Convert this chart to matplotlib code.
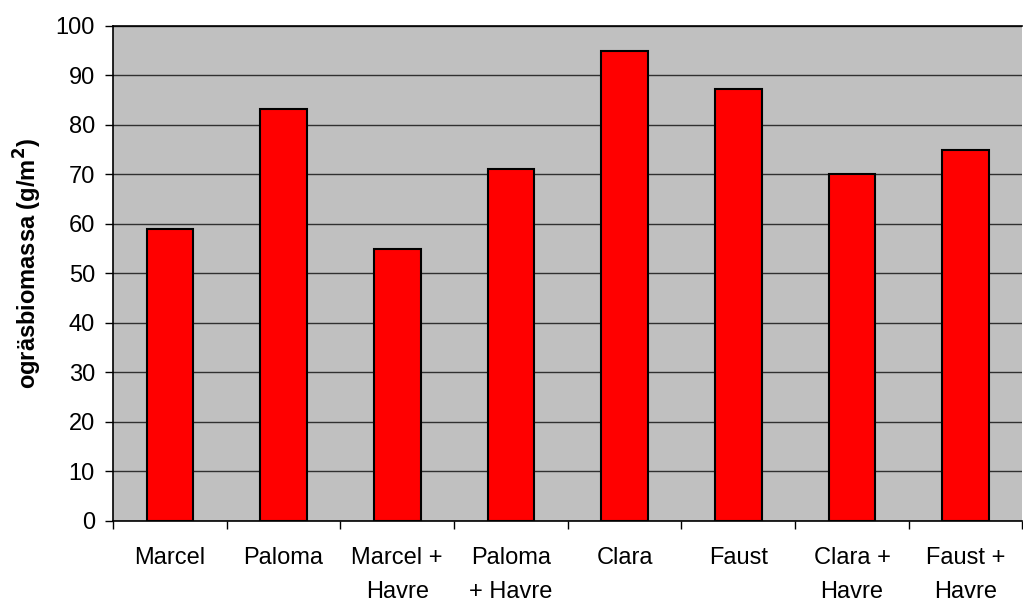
import numpy as np
import matplotlib.pyplot as plt

plt.rcParams['font.family'] = ['Liberation Sans', 'DejaVu Sans']

categories = ['Marcel', 'Paloma', 'Marcel +\nHavre', 'Paloma\n+ Havre',
              'Clara', 'Faust', 'Clara +\nHavre', 'Faust +\nHavre']
values = [59, 83.2, 55, 71, 95, 87.2, 70, 75]
yticks = list(range(0, 101, 10))

fig = plt.figure(figsize=(10.23, 6.02), dpi=100)
ax = fig.add_axes([0.1105, 0.135, 0.889, 0.822])
ax.set_facecolor('#c0c0c0')

x = np.arange(len(categories))
ax.bar(x, values, width=0.41, color='#ff0000', edgecolor='black', linewidth=1.5, zorder=3)

ax.set_xlim(-0.5, len(categories) - 0.5)
ax.set_ylim(0, 100)
ax.set_yticks(yticks)
ax.yaxis.grid(True, color='#303030', linewidth=1.0, zorder=1)
ax.set_axisbelow(True)

ax.set_xticks(x)
ax.set_xticklabels(categories, fontsize=17, linespacing=1.72)
ax.tick_params(axis='x', which='major', length=0, pad=19)
ax.set_xticks(np.arange(-0.5, len(categories) + 0.5, 1), minor=True)
ax.tick_params(axis='x', which='minor', length=6, width=1, direction='out')
ax.tick_params(axis='y', length=6, width=1, direction='out', labelsize=17, pad=7)

ax.set_ylabel(r'ogräsbiomassa (g/m$^\mathbf{2}$)', fontsize=17, fontweight='bold', labelpad=8)
ax.yaxis.label.set_y(0.52)

for s in ['left', 'bottom', 'top']:
    ax.spines[s].set_color('black')
    ax.spines[s].set_linewidth(1.2)
ax.spines['right'].set_visible(False)

fig.savefig('out.png', dpi=100)
